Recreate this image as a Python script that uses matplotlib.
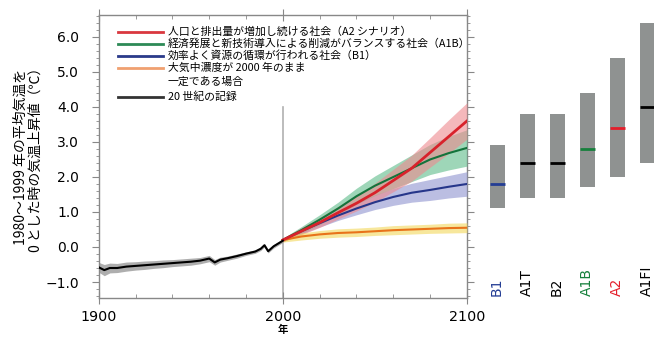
import numpy as np
import matplotlib
matplotlib.use("Agg")
import matplotlib.pyplot as plt
from matplotlib.lines import Line2D
from matplotlib.ticker import MultipleLocator

plt.rcParams['font.family'] = ['Noto Sans CJK JP', 'DejaVu Sans']

# 20th century record
hist_years = [1900, 1903, 1906, 1910, 1915, 1920, 1925, 1930, 1935, 1940, 1945, 1950,
              1955, 1960, 1963, 1966, 1970, 1975, 1980, 1985, 1988, 1990, 1992, 1995, 2000]
hist_temp = [-0.58, -0.66, -0.6, -0.6, -0.56, -0.54, -0.52, -0.5, -0.48, -0.46, -0.44, -0.42,
             -0.39, -0.33, -0.44, -0.36, -0.32, -0.26, -0.19, -0.13, -0.05, 0.05, -0.12, 0.02, 0.18]
hist_spread = [0.14, 0.16, 0.14, 0.13, 0.13, 0.12, 0.12, 0.11, 0.11, 0.1, 0.1, 0.1,
               0.09, 0.09, 0.08, 0.07, 0.06, 0.06, 0.05, 0.05, 0.05, 0.05, 0.05, 0.05, 0.05]

# projections 2000-2100
proj_years = [2000, 2010, 2020, 2030, 2040, 2050, 2060, 2070, 2080, 2090, 2100]
a2 = [0.2, 0.45, 0.7, 0.98, 1.25, 1.55, 1.9, 2.25, 2.7, 3.15, 3.6]
a2_spread = [0.05, 0.1, 0.14, 0.18, 0.22, 0.27, 0.32, 0.37, 0.42, 0.48, 0.52]
a1b = [0.2, 0.48, 0.78, 1.1, 1.45, 1.75, 2.0, 2.25, 2.5, 2.68, 2.83]
a1b_spread = [0.05, 0.1, 0.14, 0.18, 0.23, 0.28, 0.33, 0.38, 0.43, 0.48, 0.52]
b1 = [0.2, 0.45, 0.68, 0.9, 1.1, 1.28, 1.43, 1.55, 1.63, 1.72, 1.8]
b1_spread = [0.05, 0.08, 0.11, 0.14, 0.18, 0.21, 0.24, 0.27, 0.3, 0.32, 0.35]
const = [0.2, 0.3, 0.36, 0.4, 0.42, 0.45, 0.48, 0.5, 0.52, 0.54, 0.55]
const_spread = [0.06, 0.1, 0.11, 0.12, 0.12, 0.12, 0.13, 0.13, 0.13, 0.14, 0.14]

# likely ranges at 2090-2099
scen_names = ['B1', 'A1T', 'B2', 'A1B', 'A2', 'A1FI']
scen_best = [1.8, 2.4, 2.4, 2.8, 3.4, 4.0]
scen_low = [1.1, 1.4, 1.4, 1.7, 2.0, 2.4]
scen_high = [2.9, 3.8, 3.8, 4.4, 5.4, 6.4]
scen_colors = ['#243d94', 'black', 'black', '#16803c', '#e41e2a', 'black']

legend_labels = ['人口と排出量が増加し続ける社会（A2 シナリオ）',
                 '経済発展と新技術導入による削減がバランスする社会（A1B）',
                 '効率よく資源の循環が行われる社会（B1）',
                 '大気中濃度が 2000 年のまま',
                 '一定である場合',
                 '20 世紀の記録']
legend_colors = ['#d9383f', '#2d8a56', '#2a3a8a', '#f0a070', None, '#333333']

ylo, yhi = -1.46, 6.63
W, H = 654, 338

fig = plt.figure(figsize=(6.54, 3.38), dpi=100)
ax = fig.add_axes([0.151, 0.118, 0.563, 0.838])

ax.axvline(2000, ymin=0, ymax=(4.0 - ylo) / (yhi - ylo), color='#b0b0b0', lw=1.2, zorder=1)

hy = np.array(hist_years)
ht = np.array(hist_temp)
hs = np.array(hist_spread)
ax.fill_between(hy, ht - hs, ht + hs, color='#9a9a9a', alpha=0.8, lw=0, zorder=2)

py = np.array(proj_years)
bands = [(b1, b1_spread, '#8f93cf'), (a1b, a1b_spread, '#5dbb8a'),
         (a2, a2_spread, '#ee8a8f'), (const, const_spread, '#f3d75a')]
for vals, sp, c in bands:
    v = np.array(vals)
    s = np.array(sp)
    ax.fill_between(py, v - s, v + s, color=c, alpha=0.6, lw=0, zorder=3)

ax.plot(py, b1, color='#26368a', lw=1.5, zorder=5)
ax.plot(py, a1b, color='#13733b', lw=1.5, zorder=5)
ax.plot(py, a2, color='#d8222b', lw=2.0, zorder=6)
ax.plot(py, const, color='#e8731a', lw=1.5, zorder=5)
ax.plot(hy, ht, color='black', lw=1.5, zorder=6)

ax.set_xlim(1900, 2100)
ax.set_ylim(ylo, yhi)
ax.set_xticks([1900, 2000, 2100])
ax.set_xticklabels(['1900', '2000', '2100'], family='DejaVu Sans')
ax.xaxis.set_minor_locator(MultipleLocator(20))
ax.set_yticks([-1, 0, 1, 2, 3, 4, 5, 6])
ax.set_yticklabels(['−1.0', '0.0', '1.0', '2.0', '3.0', '4.0', '5.0', '6.0'], family='DejaVu Sans')
ax.yaxis.set_minor_locator(MultipleLocator(0.2))
ax.tick_params(axis='y', which='both', direction='out', left=True, right=True,
               colors='#888888', labelcolor='black', labelsize=10, pad=9)
ax.tick_params(axis='y', which='major', length=5)
ax.tick_params(axis='y', which='minor', length=2.5)
ax.tick_params(axis='x', which='both', top=True, bottom=True,
               colors='#888888', labelcolor='black', labelsize=10.3)
ax.tick_params(axis='x', which='major', direction='inout', length=8, pad=4.5)
ax.tick_params(axis='x', which='minor', direction='in', length=3)
for sp in ax.spines.values():
    sp.set_color('#888888')
    sp.set_linewidth(1.0)

ax.set_ylabel('1980～1999 年の平均気温を\n0 とした時の気温上昇値（℃）', fontsize=10,
              linespacing=1.1, labelpad=2)
ax.set_xlabel('年', fontsize=7.5, fontweight='bold', labelpad=0.5)

# legend drawn row by row (row heights in the source are uneven)
row_y = [32, 44, 56, 68, 82, 97]
for lab, col, yp in zip(legend_labels, legend_colors, row_y):
    yf = 1 - yp / H
    if col is not None:
        fig.add_artist(Line2D([118 / W, 163 / W], [yf, yf], color=col, lw=2))
    fig.text(168 / W, yf, lab, fontsize=7.8, va='center', ha='left')

# right panel with likely ranges
ax2 = fig.add_axes([482 / W, 0.118, 172 / W, 0.838])
ax2.set_xlim(-0.5, 5.23)
ax2.set_ylim(ylo, yhi)
ax2.axis('off')
xs = np.arange(len(scen_names))
ax2.bar(xs, np.array(scen_high) - np.array(scen_low), bottom=scen_low, width=0.5,
        color='#8f9291', lw=0)
ax2.hlines(scen_best, xs - 0.25, xs + 0.25, colors=scen_colors, lw=2)
for i, name in enumerate(scen_names):
    ax2.text(i, -1.4, name, rotation=90, ha='center', va='bottom', fontsize=10,
             family='DejaVu Sans', color=scen_colors[i])

fig.savefig('out.png', dpi=100)
